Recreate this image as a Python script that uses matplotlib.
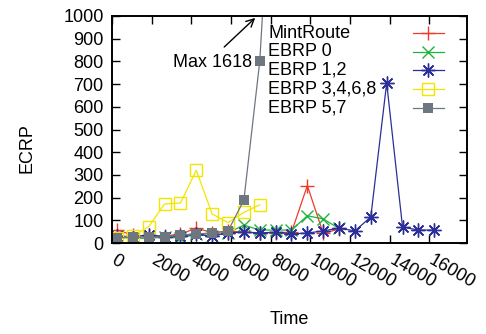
import matplotlib
matplotlib.use("Agg")
import matplotlib.pyplot as plt
from matplotlib.transforms import ScaledTranslation

plt.rcParams['font.family'] = ['Liberation Sans', 'DejaVu Sans']
plt.rcParams['font.size'] = 13

# sample times (shared grid)
tempo = [250, 1050, 1850, 2650, 3450, 4250, 5050, 5850, 6650, 7450, 8250,
         9050, 9850, 10650, 11450, 12250, 13050, 13850, 14650, 15450, 16250]
tempo_57 = tempo[:10] + [8000]

mintroute = [57, 35, 30, 32, 38, 66, 45, 52, 48, 45, 45, 47, 253, 42, 62]
ebrp_0 = [25, 22, 20, 26, 22, 38, 32, 45, 79, 57, 57, 57, 120, 106, 64]
ebrp_12 = [30, 28, 35, 28, 32, 38, 30, 45, 48, 44, 48, 40, 44, 53, 66, 53,
           115, 705, 70, 57, 57]
ebrp_3468 = [20, 30, 72, 172, 176, 320, 128, 90, 135, 168]
ebrp_57 = [22, 26, 26, 26, 35, 40, 44, 53, 189, 800, 1618]

xticks = list(range(0, 16001, 2000))
yticks = list(range(0, 1001, 100))

series = [
    ("MintRoute", tempo[:len(mintroute)], mintroute,
     dict(color='#f03a2a', marker='+', ms=10, mew=1.0)),
    ("EBRP 0", tempo[:len(ebrp_0)], ebrp_0,
     dict(color='#1fb43c', marker='x', ms=8, mew=1.0)),
    ("EBRP 1,2", tempo[:len(ebrp_12)], ebrp_12,
     dict(color='#2b2f97', marker=(8, 2, 0), ms=10, mew=1.0)),
    ("EBRP 3,4,6,8", tempo[:len(ebrp_3468)], ebrp_3468,
     dict(color='#f2e600', marker='s', ms=9, mew=1.0, mfc='none')),
    ("EBRP 5,7", tempo_57, ebrp_57,
     dict(color='#6e7780', marker='s', ms=7.5, mew=0)),
]

fig = plt.figure(figsize=(4.86, 3.34), dpi=100)
ax = fig.add_axes([112/486, 1 - 243/334, 355/486, 227/334])

for nome, t, v, estilo in series:
    ax.plot(t, v, lw=0.9, **estilo)

ax.set_xlim(0, 17900)
ax.set_ylim(0, 1000)
ax.set_xticks(xticks)
ax.set_yticks(yticks)
ax.set_xticklabels([str(x) for x in xticks], rotation=-30, ha='left',
                   va='top', rotation_mode='anchor')
ax.tick_params(direction='in', length=6, width=1.0, top=True, right=True,
               labelsize=13)
ax.tick_params(axis='x', pad=6)
ax.tick_params(axis='y', pad=6)
desloc = ScaledTranslation(5/100, 0, fig.dpi_scale_trans)
for lbl in ax.get_xticklabels():
    lbl.set_transform(lbl.get_transform() + desloc)
for s in ax.spines.values():
    s.set_linewidth(1.4)

ax.set_xlabel("Time", fontsize=13)
ax.set_ylabel("ECRP", fontsize=13)
ax.xaxis.set_label_coords(0.5, -0.30)
ax.yaxis.set_label_coords(-0.215, 0.42)

# legend drawn by hand: left-aligned text, sample on the right
y0, dy = 0.925, 0.0825
for k, (nome, t, v, estilo) in enumerate(series):
    yy = y0 - k * dy
    ax.text(0.44, yy, nome, transform=ax.transAxes, ha='left', va='center',
            fontsize=13)
    ax.plot([0.848, 0.935], [yy, yy], transform=ax.transAxes, lw=0.9,
            clip_on=False, **{kk: vv for kk, vv in estilo.items() if kk != 'marker'},
            marker=None)
    ax.plot([0.891], [yy], transform=ax.transAxes, ls='none', clip_on=False,
            **estilo)

# peak of EBRP 5,7 is off the scale
ax.text(7070, 797, "Max 1618", ha='right', va='center', fontsize=13)
ax.annotate("", xy=(7323, 1000), xytext=(5555, 855),
            arrowprops=dict(arrowstyle='->', lw=1.0, color='black',
                            mutation_scale=14),
            annotation_clip=False)

fig.savefig("out.png", dpi=100)
